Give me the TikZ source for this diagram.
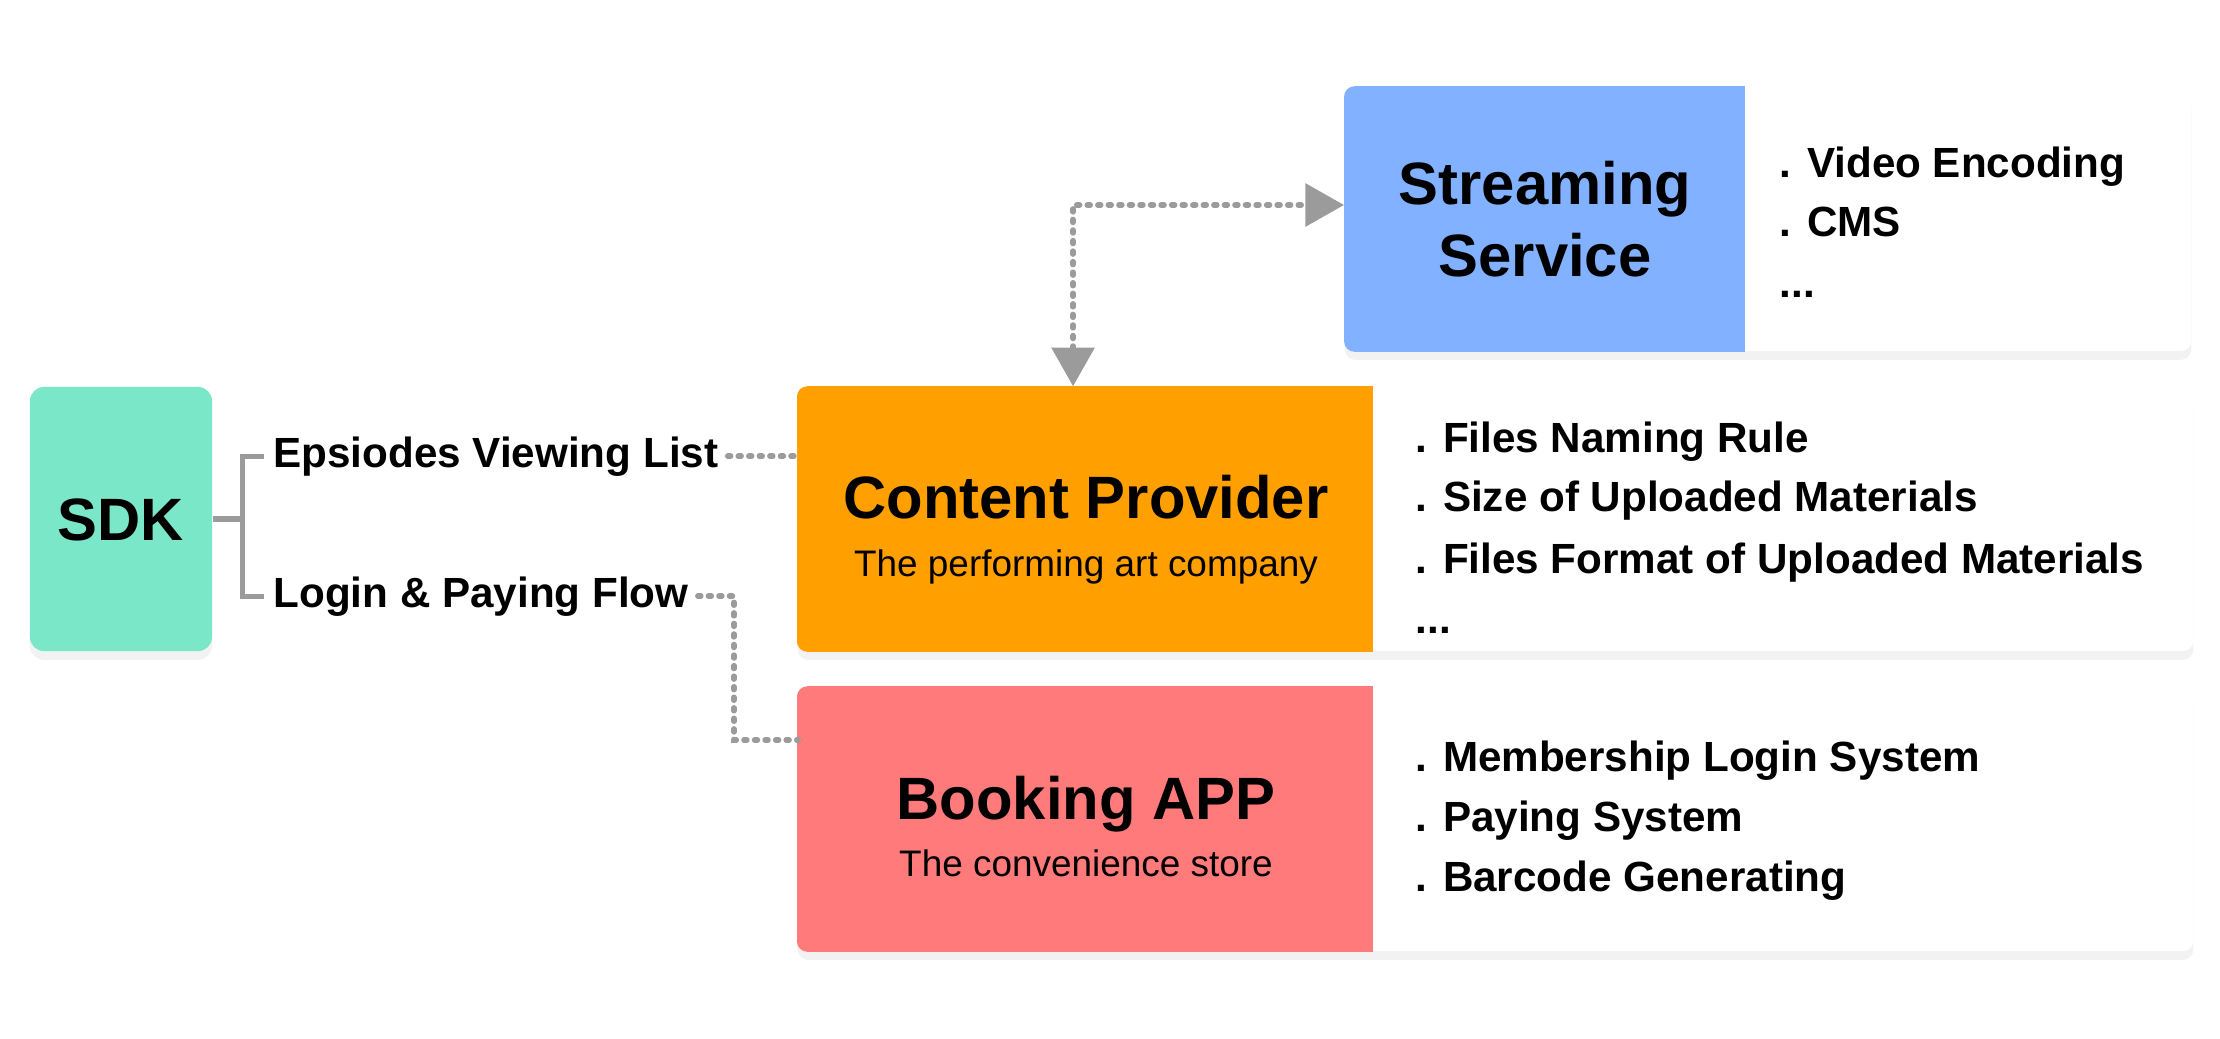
\documentclass[tikz,border=0pt]{standalone}
\usepackage{fontspec}
\setmainfont{Liberation Sans}
\usetikzlibrary{arrows.meta,shadows}
\definecolor{sdkgreen}{RGB}{122,231,201}
\definecolor{ssblue}{RGB}{130,177,255}
\definecolor{cporange}{RGB}{255,159,0}
\definecolor{bkred}{RGB}{255,123,123}
\definecolor{linkgray}{RGB}{155,155,155}

\begin{document}
\begin{tikzpicture}[x=0.01cm,y=-0.01cm,>={Triangle[length=11pt,width=12pt]},
  card/.style={fill=white,rounded corners=3pt,minimum height=2.64cm,inner sep=0pt,
    drop shadow={opacity=0.1,shadow xshift=0pt,shadow yshift=-2.5pt}},
  head/.style={font=\fontsize{17}{20.5}\selectfont\bfseries,align=center},
  sub/.style={font=\fontsize{10.5}{12.5}\selectfont,anchor=base},
  listitem/.style={font=\fontsize{12}{14}\selectfont\bfseries,anchor=base west,inner sep=0pt},
  flowlabel/.style={font=\fontsize{12}{14}\selectfont\bfseries,anchor=base west,inner xsep=2.5pt,inner ysep=0pt},
  bracket/.style={linkgray,line width=1.5pt},
  dotline/.style={linkgray,line width=1.6pt,dash pattern=on 0.8pt off 2.2pt,line cap=round}]
\useasboundingbox (0,0) rectangle (2220,1038);

% cards
\node[card,minimum width=8.46cm] (ss) at (1768,219) {};
\node[card,minimum width=13.95cm] (cp) at (1495.5,519) {};
\node[card,minimum width=13.95cm] (bk) at (1495.5,819) {};
\node[card,fill=sdkgreen,minimum width=1.82cm,rounded corners=4pt] (sdk) at (121,519) {};

\begin{scope}
\clip[rounded corners=3pt] (ss.north west) rectangle (ss.south east);
\fill[ssblue] (ss.north west) rectangle ([xshift=4.01cm]ss.south west);
\end{scope}
\begin{scope}
\clip[rounded corners=3pt] (cp.north west) rectangle (cp.south east);
\fill[cporange] (cp.north west) rectangle ([xshift=5.76cm]cp.south west);
\end{scope}
\begin{scope}
\clip[rounded corners=3pt] (bk.north west) rectangle (bk.south east);
\fill[bkred] (bk.north west) rectangle ([xshift=5.76cm]bk.south west);
\end{scope}

% titles
\node[head,anchor=base] (sdktitle) at (121,540) {SDK};
\node[head] (sstitle) at (1545,219) {Streaming\\Service};
\node[head,anchor=base] (cptitle) at (1086,518) {Content Provider};
\node[sub] (cpsub) at (1086,576) {The performing art company};
\node[head,anchor=base] (bktitle) at (1086,819) {Booking APP};
\node[sub] (bksub) at (1086,876) {The convenience store};

% lists
\node[listitem] (ss1) at (1779,177) {. Video Encoding};
\node[listitem] (ss2) at (1779,236) {. CMS};
\node[listitem] (ss3) at (1779,297) {...};
\node[listitem] (cp1) at (1415,452) {. Files Naming Rule};
\node[listitem] (cp2) at (1415,511) {. Size of Uploaded Materials};
\node[listitem] (cp3) at (1415,573) {. Files Format of Uploaded Materials};
\node[listitem] (cp4) at (1415,633) {...};
\node[listitem] (bk1) at (1415,771) {. Membership Login System};
\node[listitem] (bk2) at (1415,831) {. Paying System};
\node[listitem] (bk3) at (1415,891) {. Barcode Generating};

% sdk branches
\node[flowlabel] (evl) at (264,467) {Epsiodes Viewing List};
\node[flowlabel] (lpf) at (264,607) {Login \& Paying Flow};
\draw[bracket] (sdk.east) -- ++(30,0) coordinate (fork);
\draw[bracket] (evl.west) -| (fork) |- (lpf.west);

% links
\coordinate (bkin) at (798,740);
\draw[dotline] (evl.east) -- (evl.east -| cp.west);
\draw[dotline] (lpf.east) -- ++(36,0) |- (bkin);
\draw[dotline,<->] ([xshift=2.76cm]cp.north west) |- ([yshift=0.14cm]ss.west);
\end{tikzpicture}
\end{document}
